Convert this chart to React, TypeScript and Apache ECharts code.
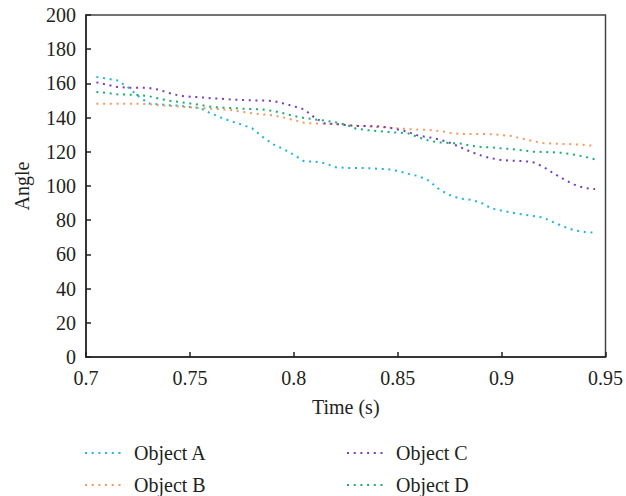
import React, { useEffect, useRef } from "react";
import * as echarts from "echarts";

const times = [
  0.705, 0.71, 0.715, 0.72, 0.725, 0.73, 0.735, 0.74, 0.745, 0.75,
  0.755, 0.76, 0.765, 0.77, 0.775, 0.78, 0.785, 0.79, 0.795, 0.8,
  0.805, 0.81, 0.815, 0.82, 0.825, 0.83, 0.835, 0.84, 0.845, 0.85,
  0.855, 0.86, 0.865, 0.87, 0.875, 0.88, 0.885, 0.89, 0.895, 0.9,
  0.905, 0.91, 0.915, 0.92, 0.925, 0.93, 0.935, 0.94, 0.945,
];

const objectA = [
  163.7, 162.8, 161.8, 157.9, 152.8, 148.3, 147.8, 147.2, 147, 146.2,
  145.6, 142.5, 140, 137.8, 135.9, 133.7, 128.7, 124.4, 121.6, 118.3,
  114.4, 114.3, 113.3, 111, 110.6, 110.5, 110.5, 110.1, 109.9, 108.8,
  107.2, 105.8, 103.1, 98, 94.7, 92.6, 92, 90.3, 86.9, 85.6,
  84.4, 83.4, 82.5, 81.5, 78.8, 76.2, 74.1, 73.1, 72.7,
];

const objectB = [
  148.1, 148.1, 148.1, 148.1, 148.1, 147.9, 147.2, 147, 146.4, 146,
  145.6, 145.2, 144.8, 144.4, 143.4, 142.5, 141.9, 141.3, 140.1, 138.6,
  137, 136.5, 136.4, 136.2, 135.9, 135.3, 134.9, 134.5, 134.3, 133.7,
  133.3, 132.9, 132.8, 132.2, 131.2, 130.4, 130.4, 130.4, 130.3, 129.8,
  129.2, 127.7, 126.3, 125.1, 124.8, 124.6, 124.4, 124, 123.4,
];

const objectC = [
  160.6, 159.3, 157.9, 157.5, 157.5, 157.4, 156.3, 154.4, 152.8, 152.2,
  151.9, 151.3, 151.1, 150.5, 150.3, 150.1, 150, 149.7, 148.3, 146.6,
  144.8, 140, 136.6, 136.3, 135.6, 135.1, 135.1, 134.9, 134.3, 133.1,
  131.6, 129.4, 128.5, 127.2, 125.3, 122.8, 120.1, 117.9, 116.2, 115.2,
  114.8, 114.6, 114, 111.3, 107.4, 103.9, 100.8, 98.8, 98.2,
];

const objectD = [
  155, 154.4, 153.6, 153.4, 153.2, 152.6, 151.1, 149.9, 149.1, 148.3,
  147.4, 146.4, 145.8, 145.6, 145.2, 145, 144.8, 143.9, 142.5, 140.9,
  139.8, 139, 138.2, 137.3, 135.8, 133.5, 132.7, 132.2, 131.6, 131.2,
  130.8, 128.5, 126.5, 125.5, 125.1, 124.9, 123.6, 122.8, 122.6, 122,
  121.6, 120.9, 120.1, 119.9, 119.7, 119.3, 118.3, 117.1, 115.6,
];

const seriesNames = ["Object A", "Object B", "Object C", "Object D"];
const seriesColors = ["#1db4e8", "#f59a5a", "#7a3cc0", "#18b070"];
const seriesValues = [objectA, objectB, objectC, objectD];

const FONT = "Liberation Serif";
const TEXT = "#231f20";

export default function App() {
  const ref = useRef<HTMLDivElement>(null);

  useEffect(() => {
    document.body.style.margin = "0";
    if (!ref.current) return;
    const chart = echarts.init(ref.current, null, { renderer: "svg" });

    const series = seriesNames.map((name, i) => ({
      name,
      type: "line",
      data: times.map((t, j) => [t, seriesValues[i][j]]),
      showSymbol: false,
      symbol: "none",
      smooth: false,
      lineStyle: { color: seriesColors[i], width: 2, type: [2, 4.7] },
      itemStyle: { color: seriesColors[i] },
    }));

    const legendCommon = {
      orient: "vertical",
      padding: 0,
      height: 60,
      itemWidth: 36,
      itemHeight: 14,
      itemGap: 12,
      itemStyle: { opacity: 0 },
      textStyle: {
        fontFamily: FONT,
        fontSize: 20,
        color: TEXT,
        lineHeight: 20,
        padding: [0, 0, 0, 8],
      },
    };

    chart.setOption({
      animation: false,
      backgroundColor: "#ffffff",
      grid: {
        left: 86,
        right: 19,
        top: 15,
        bottom: 139,
        show: true,
        borderColor: "#444",
        borderWidth: 1.5,
        backgroundColor: "transparent",
      },
      legend: [
        { ...legendCommon, left: 84, top: 443, data: ["Object A", "Object B"] },
        { ...legendCommon, left: 346, top: 443, data: ["Object C", "Object D"] },
      ],
      xAxis: {
        type: "value",
        min: 0.7,
        max: 0.95,
        interval: 0.05,
        name: "Time (s)",
        nameLocation: "middle",
        nameGap: 40,
        nameTextStyle: { fontFamily: FONT, fontSize: 20, color: TEXT },
        axisLine: { show: true, lineStyle: { color: "#222", width: 1.5 } },
        axisTick: { show: true, inside: true, length: 5, lineStyle: { color: "#222", width: 1.5 } },
        axisLabel: {
          fontFamily: FONT,
          fontSize: 20,
          color: TEXT,
          margin: 11,
          formatter: (v: number) => String(+v.toFixed(2)),
        },
        splitLine: { show: false },
      },
      yAxis: {
        type: "value",
        min: 0,
        max: 200,
        interval: 20,
        name: "Angle",
        nameLocation: "middle",
        nameGap: 54,
        nameTextStyle: { fontFamily: FONT, fontSize: 20, color: TEXT },
        axisLine: { show: true, lineStyle: { color: "#222", width: 1.5 } },
        axisTick: { show: true, inside: true, length: 5, lineStyle: { color: "#222", width: 1.5 } },
        axisLabel: { fontFamily: FONT, fontSize: 20, color: TEXT, margin: 10 },
        splitLine: { show: false },
      },
      series,
    });

    return () => chart.dispose();
  }, []);

  return <div ref={ref} style={{ width: 626, height: 496 }} />;
}
